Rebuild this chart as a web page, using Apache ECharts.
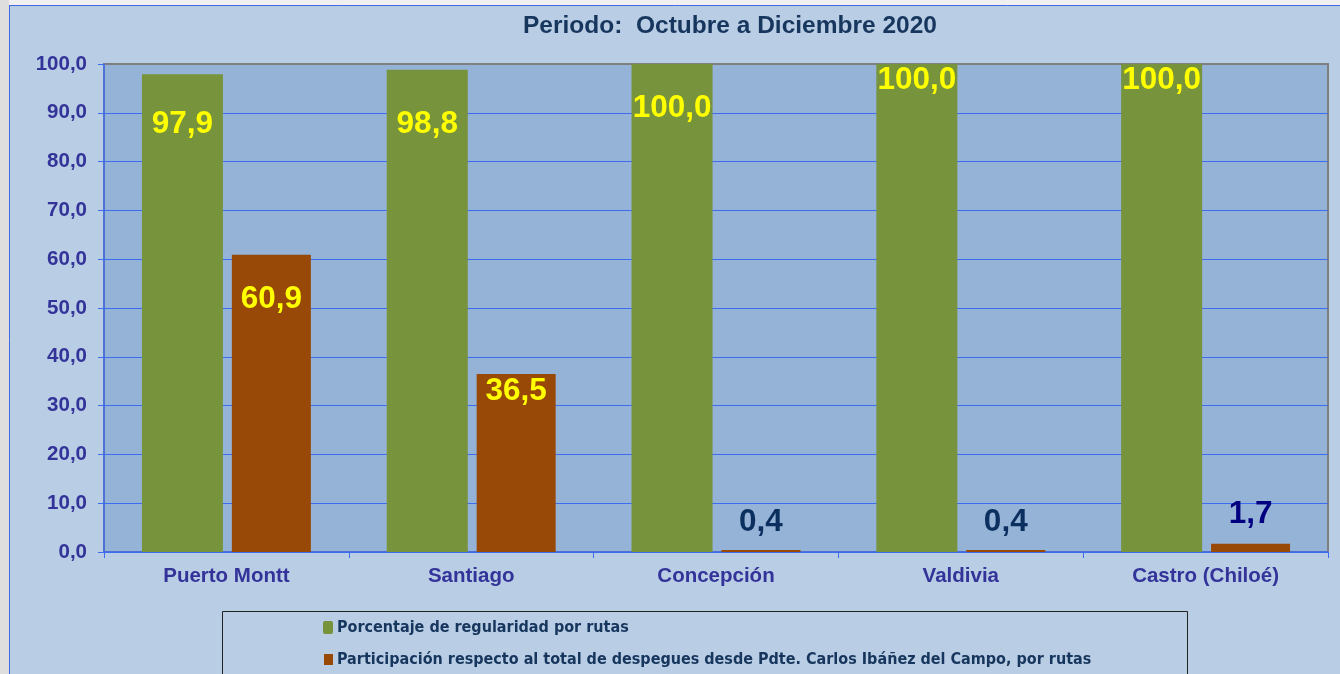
<!DOCTYPE html>
<html>
<head>
<meta charset="utf-8">
<script src="https://cdn.jsdelivr.net/npm/echarts@6/dist/echarts.min.js"></script>
<style>
  html, body { margin: 0; padding: 0; background: #b9cde5; }
  #container { width: 1340px; height: 674px; }
</style>
</head>
<body>
<div id="container"></div>
<script>
var categories = ["Puerto Montt", "Santiago", "Concepción", "Valdivia", "Castro (Chiloé)"];
var regularidad = [97.9, 98.8, 100.0, 100.0, 100.0];
var participacion = [60.9, 36.5, 0.4, 0.4, 1.7];
var seriesNames = [
  "Porcentaje de regularidad por rutas",
  "Participación respecto al total de despegues desde Pdte. Carlos Ibáñez del Campo, por rutas"
];

// label placement, Excel-style manual nudges
var greenLabelOffset = [29, 33, 23, -5, -5];
var brownLabel = [
  { position: "insideTop", offset: 24, color: "#ffff00" },
  { position: "insideTop", offset: -4, color: "#ffff00" },
  { position: "top", offset: 7, color: "#0b2f5e" },
  { position: "top", offset: 7, color: "#0b2f5e" },
  { position: "top", offset: 8, color: "#000080" }
];

var FONT = "Arial";

function fmt(v) {
  return v.toFixed(1).replace(".", ",");
}

var dom = document.getElementById("container");
var myChart = echarts.init(dom, null, { renderer: "canvas" });

var option = {
  backgroundColor: "#b9cde5",
  animation: false,
  textStyle: { fontFamily: FONT },
  title: {
    text: "Periodo:  Octubre a Diciembre 2020",
    left: 523,
    top: 14,
    padding: 0,
    textStyle: { fontSize: 24.5, fontWeight: 700, color: "#17365d", fontFamily: FONT }
  },
  grid: {
    left: 104,
    right: 12,
    top: 64,
    bottom: 122,
    show: true,
    backgroundColor: "#95b3d7",
    borderColor: "#7f7f7f",
    borderWidth: 2
  },
  legend: { show: false },
  xAxis: {
    type: "category",
    data: categories,
    axisLine: { lineStyle: { color: "#3d6cf0", width: 1.5 } },
    axisTick: { show: true, length: 6, lineStyle: { color: "#3d6cf0" } },
    axisLabel: {
      fontSize: 20.5,
      fontWeight: 700,
      fontFamily: FONT,
      color: "#333399",
      margin: 14
    }
  },
  yAxis: {
    type: "value",
    min: 0,
    max: 100,
    interval: 10,
    axisLine: { show: true, lineStyle: { color: "#3d6cf0", width: 1.5 } },
    axisTick: { show: true, length: 6, lineStyle: { color: "#3d6cf0" } },
    splitLine: { showMaxLine: false, lineStyle: { color: "#3d6cf0", width: 1 } },
    axisLabel: {
      fontSize: 20.5,
      fontWeight: 700,
      fontFamily: FONT,
      color: "#333399",
      margin: 17,
      formatter: function (v) { return fmt(v); }
    }
  },
  series: [
    {
      name: seriesNames[0],
      type: "bar",
      barWidth: 81,
      barGap: "11%",
      color: "#77933c",
      data: regularidad.map(function (v, i) {
        return {
          value: v,
          label: { offset: [0, greenLabelOffset[i]] }
        };
      }),
      label: {
        show: true,
        position: "insideTop",
        distance: 5,
        fontSize: 31.5,
        fontWeight: 700,
        fontFamily: FONT,
        color: "#ffff00",
        formatter: function (p) { return fmt(p.value); }
      }
    },
    {
      name: seriesNames[1],
      type: "bar",
      barWidth: 79,
      barGap: "11%",
      color: "#984807",
      data: participacion.map(function (v, i) {
        var l = brownLabel[i];
        return {
          value: v,
          label: {
            position: l.position,
            color: l.color,
            distance: 5,
            offset: [0, l.position === "top" ? -l.offset : l.offset]
          }
        };
      }),
      label: {
        show: true,
        fontSize: 31.5,
        fontWeight: 700,
        fontFamily: FONT,
        formatter: function (p) { return fmt(p.value); }
      }
    }
  ],
  graphic: [
    { type: "rect", left: 0, top: 0, shape: { width: 1340, height: 5 }, style: { fill: "#f0f0f0" }, silent: true },
    { type: "rect", left: 0, top: 0, shape: { width: 9, height: 674 }, style: { fill: "#dedede" }, silent: true },
    { type: "line", shape: { x1: 9, y1: 5.5, x2: 1340, y2: 5.5 }, style: { stroke: "#4169e1", lineWidth: 1 }, silent: true },
    { type: "line", shape: { x1: 9.5, y1: 5, x2: 9.5, y2: 674 }, style: { stroke: "#4169e1", lineWidth: 1 }, silent: true },
    {
      type: "rect",
      shape: { x: 222.5, y: 611.5, width: 965, height: 70 },
      style: { fill: "#b9cde5", stroke: "#222222", lineWidth: 1 },
      silent: true
    },
    { type: "rect", shape: { x: 323, y: 621, width: 10, height: 13, r: 2 }, style: { fill: "#77933c" }, silent: true },
    { type: "rect", shape: { x: 324, y: 654, width: 9, height: 11 }, style: { fill: "#984807" }, silent: true },
    {
      type: "text",
      x: 337, y: 628,
      style: {
        text: seriesNames[0],
        fill: "#17365d",
        font: "bold 16px 'DejaVu Sans Condensed', Arial, sans-serif",
        verticalAlign: "middle"
      },
      silent: true
    },
    {
      type: "text",
      x: 337, y: 660,
      style: {
        text: seriesNames[1],
        fill: "#17365d",
        font: "bold 16px 'DejaVu Sans Condensed', Arial, sans-serif",
        verticalAlign: "middle"
      },
      silent: true
    }
  ]
};

if (option && typeof option === "object") {
  myChart.setOption(option);
}

window.addEventListener("resize", myChart.resize);
</script>
</body>
</html>
